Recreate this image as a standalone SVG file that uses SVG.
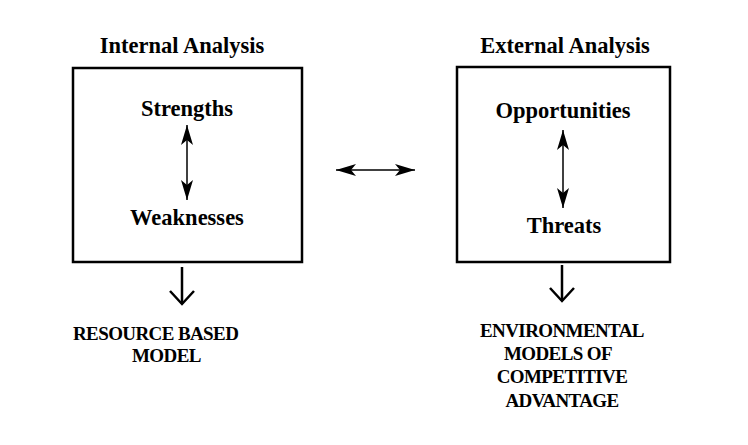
<svg xmlns="http://www.w3.org/2000/svg" width="748" height="445" viewBox="0 0 748 445">
  <style>
    text { font-family: "Liberation Serif", "Times New Roman", serif; font-weight: bold; fill: #000; }
    .title { font-size: 22.5px; text-anchor: middle; }
    .item { font-size: 22.5px; text-anchor: middle; }
    .out { font-size: 19px; letter-spacing: -0.6px; }
    .outc { font-size: 19px; letter-spacing: -0.6px; text-anchor: middle; }
    .box { fill: #fff; stroke: #000; stroke-width: 2.5; }
    .dbl { stroke: #000; stroke-width: 1.5; fill: none; marker-start: url(#barb); marker-end: url(#barb); }
    .down { stroke: #000; stroke-width: 2.5; fill: none; marker-end: url(#vee); }
  </style>
  <defs>
    <marker id="barb" markerUnits="userSpaceOnUse" viewBox="0 -7 21 14" markerWidth="21" markerHeight="14" refX="20" refY="0" orient="auto-start-reverse">
      <path d="M20,0 L0,-6 L5,0 L0,6 Z" fill="#000"/>
    </marker>
    <marker id="vee" markerUnits="userSpaceOnUse" viewBox="-2 -14 18 28" markerWidth="18" markerHeight="28" refX="13" refY="0" orient="auto">
      <path d="M0,-12 L13,0 L0,12" fill="none" stroke="#000" stroke-width="2.5"/>
    </marker>
  </defs>
  <rect x="0" y="0" width="748" height="445" fill="#fff"/>

  <g id="internal">
    <text class="title" x="182" y="53">Internal Analysis</text>
    <rect class="box" x="73" y="68" width="229" height="194"/>
    <text class="item" x="187" y="116">Strengths</text>
    <text class="item" x="187" y="225">Weaknesses</text>
  </g>

  <g id="external">
    <text class="title" x="565" y="53">External Analysis</text>
    <rect class="box" x="457" y="67" width="213" height="195"/>
    <text class="item" x="563" y="118">Opportunities</text>
    <text class="item" x="564" y="233">Threats</text>
  </g>

  <g id="resource-model">
    <text class="out" x="73" y="340">RESOURCE BASED</text>
    <text class="out" x="132" y="362">MODEL</text>
  </g>

  <g id="environmental-models">
    <text class="outc" x="562" y="337">ENVIRONMENTAL</text>
    <text class="outc" x="558" y="360">MODELS OF</text>
    <text class="outc" x="562" y="383">COMPETITIVE</text>
    <text class="outc" x="562" y="407">ADVANTAGE</text>
  </g>

  <g id="connectors">
    <line class="dbl" x1="187" y1="125" x2="187" y2="200"/>
    <line class="dbl" x1="563" y1="130" x2="563" y2="208"/>
    <line class="dbl" x1="336" y1="170" x2="415" y2="170"/>
    <line class="down" x1="182" y1="267" x2="182" y2="304"/>
    <line class="down" x1="562" y1="265" x2="562" y2="301"/>
  </g>
</svg>
